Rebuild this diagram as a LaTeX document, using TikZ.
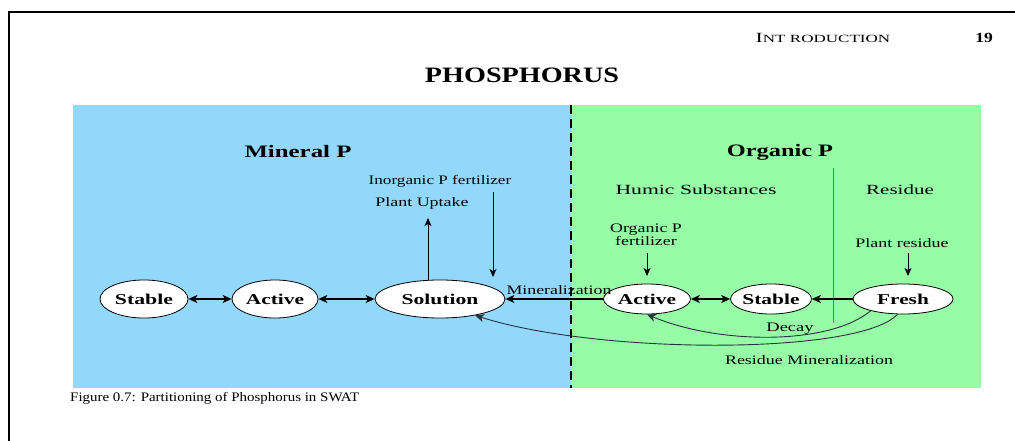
\documentclass[tikz,border=0pt]{standalone}
\usepackage{fontspec}
\setmainfont{Liberation Serif}
\usepackage{graphicx}
\usetikzlibrary{arrows.meta,shapes.geometric}
\definecolor{minblue}{RGB}{146,216,252}
\definecolor{orggreen}{RGB}{150,252,166}
\definecolor{curvegray}{RGB}{40,50,60}
\newcommand{\sx}[2]{\scalebox{#1}[1]{#2}}
\begin{document}
\begin{tikzpicture}[x=1pt,y=-1pt,
  pool/.style={ellipse, draw=black, line width=0.8pt, fill=white, inner sep=0pt,
    font=\fontsize{15}{17}\selectfont\bfseries},
  lbl/.style={inner sep=0pt, font=\fontsize{13}{15}\selectfont},
  sublbl/.style={inner sep=0pt, font=\fontsize{14}{16}\selectfont},
  ttl/.style={inner sep=0pt, font=\fontsize{17.5}{20}\selectfont\bfseries},
  tip/.tip={Stealth[length=9pt,width=8pt,inset=2.5pt]},
  flow/.style={line width=1.3pt, draw=black, -tip},
  both/.style={line width=1.3pt, draw=black, tip-tip},
  feed/.style={line width=1pt, draw=black, -{Stealth[length=8pt,width=7pt,inset=2pt]}},
  curve/.style={line width=0.9pt, draw=curvegray, -{Stealth[length=9pt,width=8pt,inset=2.5pt]}}
]
\useasboundingbox (0,0) rectangle (1015,441);
% page frame
\draw[line width=2pt] (9,441) -- (9,12) -- (1015,12);
% header
\node[inner sep=0pt] (hdr) at (823,38) {\sx{1.55}{{\fontsize{14}{16}\selectfont I}{\fontsize{11}{13}\selectfont NT RODUCTION}}};
\node[inner sep=0pt, font=\fontsize{14}{16}\selectfont\bfseries] (pg) at (984,38) {\sx{1.25}{19}};
\node[inner sep=0pt, font=\fontsize{22}{24}\selectfont\bfseries] (title) at (522,75) {\sx{1.28}{PHOSPHORUS}};
% background panels
\fill[minblue] (73,105) rectangle (571,388);
\fill[orggreen] (571,105) rectangle (981,388);
\draw[line width=2.6pt, dash pattern=on 9pt off 5pt] (571,105) -- (571,388);
\draw[line width=1pt, draw=black!55!green!40!black!60] (833,168) -- (833,323);
% titles
\node[ttl] (minp) at (298,152) {\sx{1.42}{Mineral P}};
\node[ttl] (orgp) at (780,152) {\sx{1.39}{Organic P}};
\node[sublbl] (humic) at (696,190) {\sx{1.55}{Humic Substances}};
\node[sublbl] (resid) at (900,190) {\sx{1.5}{Residue}};
% pools
\node[pool, minimum width=88pt, minimum height=38pt] (stab1) at (144,299) {\sx{1.45}{Stable}};
\node[pool, minimum width=86pt, minimum height=38pt] (act1) at (275,299) {\sx{1.43}{Active}};
\node[pool, minimum width=130pt, minimum height=38pt] (sol) at (440,299) {\sx{1.44}{Solution}};
\node[pool, minimum width=87pt, minimum height=30pt] (act2) at (647,299) {\sx{1.43}{Active}};
\node[pool, minimum width=76pt, minimum height=30pt] (stab2) at (771,299) {\sx{1.43}{Stable}};
\node[pool, minimum width=100pt, minimum height=30pt] (fresh) at (903,299) {\sx{1.42}{Fresh}};
% labels
\node[lbl] (inorg) at (440,181) {\sx{1.32}{Inorganic P fertilizer}};
\node[lbl] (uptake) at (422,203) {\sx{1.38}{Plant Uptake}};
\node[lbl, align=center] (orgfert) at (646,235) {\sx{1.38}{Organic P}\\[-2pt]\sx{1.38}{fertilizer}};
\node[lbl] (plres) at (902,243) {\sx{1.38}{Plant residue}};
\node[lbl] (minlbl) at (559,290) {\sx{1.37}{Mineralization}};
\node[lbl] (decay) at (790,329) {\sx{1.42}{Decay}};
\node[lbl] (resmin) at (809,360) {\sx{1.38}{Residue Mineralization}};
% caption
\node[inner sep=0pt, anchor=west, font=\fontsize{13}{15}\selectfont] (cap) at (70,398) {\sx{1.15}{Figure 0.7: Partitioning of Phosphorus in SWAT}};
% coordinates for free arrow ends
\coordinate (uptk) at (428,218);
\coordinate (inin) at (493,192);
\coordinate (inout) at (493,277);
\coordinate (ofin) at (647,253);
\coordinate (ofout) at (647,276);
\coordinate (prin) at (908,253);
\coordinate (prout) at (908,276);
% connectors
\draw[both] (stab1.east) -- (act1.west);
\draw[both] (act1.east) -- (sol.west);
\draw[flow] (act2.west) -- (sol.east);
\draw[both] (act2.east) -- (stab2.west);
\draw[flow] (fresh.west) -- (stab2.east);
\draw[feed] (uptk |- sol.north) -- (uptk);
\draw[feed] (inin) -- (inout);
\draw[feed] (ofin) -- (ofout);
\draw[feed] (prin) -- (prout);
\draw[curve] (fresh.200) .. controls (830,345) and (720,345) .. (act2.south);
\draw[curve] (fresh.250) .. controls (860,355) and (600,355) .. (sol.-25);
\end{tikzpicture}
\end{document}
